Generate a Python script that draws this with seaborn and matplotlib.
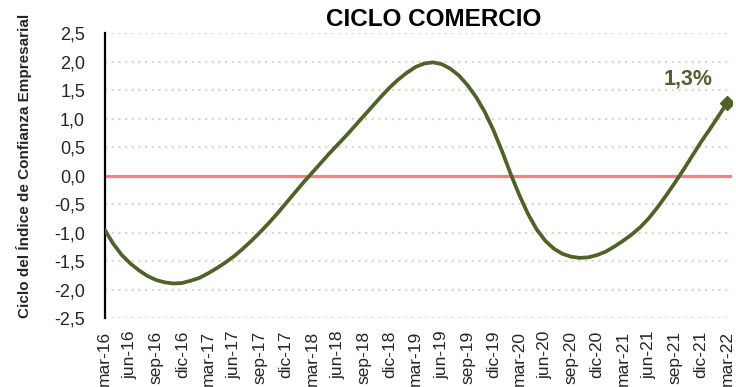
import numpy as np
import pandas as pd
import matplotlib
matplotlib.use("Agg")
import matplotlib.pyplot as plt
import seaborn as sns

# Monthly cycle of the business confidence index (commerce), mar-2016 .. mar-2022
months = pd.date_range("2016-03-01", "2022-03-01", freq="MS")
ciclo = [
    -0.94, -1.19, -1.39, -1.54, -1.66, -1.76, -1.83, -1.87, -1.89, -1.88,
    -1.84, -1.79, -1.71, -1.62, -1.52, -1.41, -1.28, -1.14, -0.99, -0.83,
    -0.66, -0.48, -0.30, -0.12, 0.05, 0.22, 0.39, 0.55, 0.71, 0.88,
    1.05, 1.22, 1.39, 1.55, 1.69, 1.81, 1.91, 1.97, 1.99, 1.96,
    1.88, 1.76, 1.59, 1.38, 1.12, 0.80, 0.43, 0.03, -0.34, -0.67,
    -0.94, -1.14, -1.28, -1.37, -1.42, -1.44, -1.43, -1.39, -1.33, -1.24,
    -1.14, -1.03, -0.90, -0.74, -0.55, -0.34, -0.12, 0.11, 0.35, 0.59,
    0.81, 1.04, 1.27,
]
mes_es = {3: "mar", 6: "jun", 9: "sep", 12: "dic"}
y_ticks = [-2.5, -2.0, -1.5, -1.0, -0.5, 0.0, 0.5, 1.0, 1.5, 2.0, 2.5]

df = pd.DataFrame({"mes": months, "ciclo": ciclo})
df["pos"] = np.arange(len(df))
trimestres = df[df["mes"].dt.month.isin([3, 6, 9, 12])]
x_labels = [f"{mes_es[d.month]}-{d.strftime('%y')}" for d in trimestres["mes"]]

sns.set_theme(style="white")
plt.rcParams["font.family"] = ["Liberation Sans", "DejaVu Sans"]

LINEA = "#4F6228"
CERO = "#FF7C80"
GRID = "#DDD9C3"

fig = plt.figure(figsize=(7.36, 3.87), dpi=100)
ax = fig.add_axes([104.5 / 736, 1 - 318.3 / 387, (732 - 104.5) / 736, (318.3 - 33.3) / 387])

for v in y_ticks:
    if v != 0:
        ax.axhline(v, color=GRID, lw=1.6, ls=(0, (1, 2)), zorder=0)
ax.axhline(0, color=CERO, lw=2.3, zorder=1)

sns.lineplot(data=df, x="pos", y="ciclo", color=LINEA, lw=2.7, ax=ax, zorder=3)
ult = df.iloc[-1]
ax.plot(ult["pos"], ult["ciclo"], marker="D", ms=7, color=LINEA, zorder=4)
ax.text(ult["pos"] - 4.5, ult["ciclo"] + 0.43, f"{ult['ciclo']:.1f}%".replace(".", ","),
        color=LINEA, fontsize=15.5, fontweight="bold", ha="center", va="center")

ax.set_xlim(0, 72.6)
ax.set_ylim(-2.5, 2.5)
ax.set_xticks(trimestres["pos"])
ax.set_xticklabels(x_labels, rotation=90, fontsize=12.5)
ax.set_yticks(y_ticks)
ax.set_yticklabels([f"{v:.1f}".replace(".", ",") for v in y_ticks], fontsize=13)
ax.tick_params(axis="x", length=0, pad=9)
ax.tick_params(axis="y", length=0, pad=14)
ax.set_xlabel("")
ax.set_ylabel("")

for s in ["top", "right", "bottom"]:
    ax.spines[s].set_visible(False)
ax.spines["left"].set_color("black")
ax.spines["left"].set_linewidth(1.6)

fig.text(434 / 736, 1 - 20 / 387, "CICLO COMERCIO", fontsize=17.5, fontweight="bold",
         ha="center", va="center", color="black")
fig.text(24.5 / 736, 1 - 166 / 387, "Ciclo del Índice de Confianza Empresarial",
         rotation=90, fontsize=11, fontweight="bold", ha="center", va="center")

fig.savefig("out.png", dpi=100)
